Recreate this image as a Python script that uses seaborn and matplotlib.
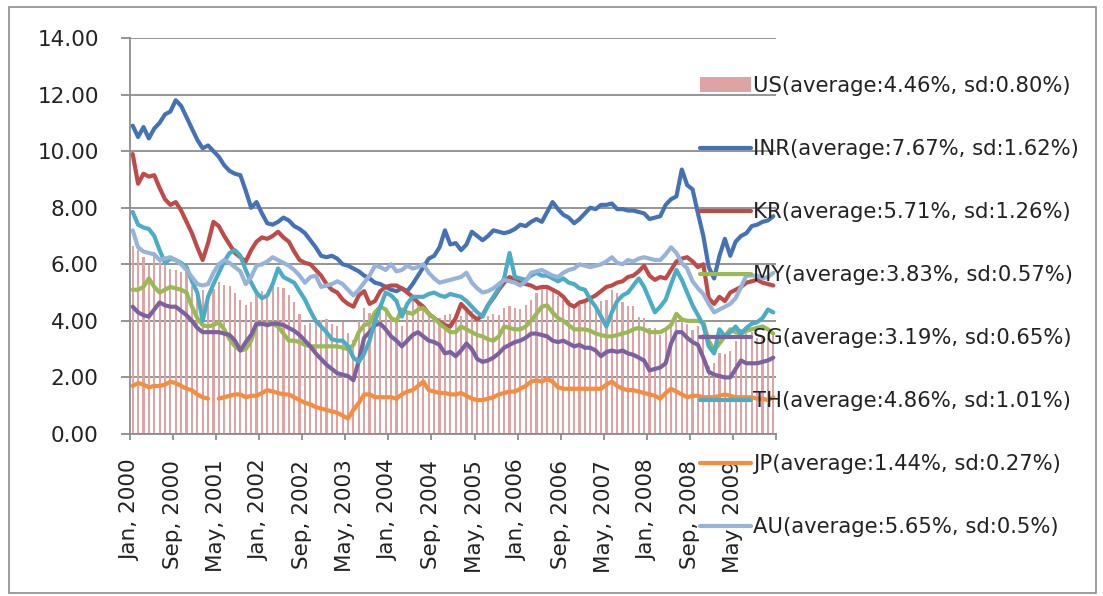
import numpy as np
import pandas as pd
import matplotlib.pyplot as plt
import seaborn as sns
from matplotlib.patches import Patch, Rectangle
from matplotlib.lines import Line2D

# ---------------------------------------------
# Datos mensuales (Jan 2000 - Dec 2009), en %
# ---------------------------------------------
months = pd.date_range("2000-01-01", periods=120, freq="MS").strftime("%b, %Y").tolist()

us = [6.66, 6.52, 6.26, 5.99, 6.44, 6.10, 6.05, 5.83, 5.80, 5.74, 5.72, 5.24,
      5.16, 5.10, 4.89, 5.14, 5.39, 5.28, 5.24, 4.97, 4.73, 4.57, 4.65, 5.09,
      5.04, 4.91, 5.28, 5.21, 5.16, 4.93, 4.65, 4.26, 3.87, 3.94, 4.05, 4.03,
      4.05, 3.90, 3.81, 3.96, 3.57, 3.33, 3.98, 4.45, 4.27, 4.29, 4.30, 4.27,
      4.15, 4.08, 3.83, 4.35, 4.72, 4.73, 4.50, 4.28, 4.13, 4.10, 4.19, 4.23,
      4.22, 4.17, 4.50, 4.34, 4.14, 4.00, 4.18, 4.26, 4.20, 4.46, 4.54, 4.47,
      4.42, 4.57, 4.72, 4.99, 5.11, 5.11, 5.09, 4.88, 4.72, 4.73, 4.60, 4.56,
      4.76, 4.72, 4.56, 4.69, 4.75, 5.10, 5.00, 4.67, 4.52, 4.53, 4.15, 4.10,
      3.74, 3.74, 3.51, 3.68, 3.88, 4.10, 4.01, 3.89, 3.69, 3.81, 3.53, 2.42,
      2.52, 2.87, 2.82, 2.93, 3.29, 3.72, 3.56, 3.59, 3.40, 3.39, 3.40, 3.59]

inr = [10.9, 10.5, 10.85, 10.45, 10.8, 11.0, 11.3, 11.4, 11.8, 11.6, 11.2, 10.8,
       10.4, 10.1, 10.2, 10.0, 9.8, 9.5, 9.3, 9.2, 9.15, 8.6, 8.0, 8.2,
       7.8, 7.45, 7.4, 7.5, 7.65, 7.55, 7.35, 7.25, 7.1, 6.85, 6.6, 6.3,
       6.25, 6.3, 6.2, 6.0, 5.95, 5.85, 5.75, 5.6, 5.5, 5.35, 5.3, 5.2,
       5.1, 5.05, 5.15, 5.05, 5.3, 5.6, 5.9, 6.2, 6.3, 6.6, 7.2, 6.7,
       6.75, 6.5, 6.7, 7.15, 7.0, 6.85, 7.0, 7.2, 7.15, 7.1, 7.15, 7.25,
       7.4, 7.35, 7.5, 7.6, 7.5, 7.85, 8.2, 7.95, 7.75, 7.65, 7.45, 7.6,
       7.8, 8.0, 7.95, 8.1, 8.1, 8.15, 7.95, 7.95, 7.9, 7.9, 7.85, 7.8,
       7.6, 7.65, 7.7, 8.1, 8.3, 8.4, 9.35, 8.8, 8.65, 7.8, 7.0, 5.9,
       5.5, 6.3, 6.9, 6.3, 6.8, 7.0, 7.1, 7.35, 7.4, 7.5, 7.55, 7.7]

kr = [9.9, 8.85, 9.2, 9.1, 9.15, 8.7, 8.3, 8.1, 8.2, 7.9, 7.5, 7.1,
      6.6, 6.15, 6.75, 7.5, 7.35, 7.0, 6.7, 6.4, 6.25, 6.1, 6.5, 6.8,
      6.95, 6.9, 7.0, 7.15, 6.95, 6.8, 6.45, 6.15, 6.05, 6.0, 5.8, 5.6,
      5.3, 5.1, 5.0, 4.75, 4.6, 4.5, 4.9, 5.05, 4.6, 4.7, 5.05, 5.2,
      5.25, 5.25, 5.15, 5.0, 4.85, 4.65, 4.5, 4.25, 4.1, 3.95, 3.85, 3.8,
      4.1, 4.6, 4.4, 4.2, 4.05, 4.2, 4.55, 4.8, 5.1, 5.35, 5.55, 5.45,
      5.35, 5.3, 5.25, 5.15, 5.2, 5.2, 5.1, 5.0, 4.85, 4.6, 4.5, 4.65,
      4.7, 4.8, 4.9, 5.05, 5.2, 5.25, 5.35, 5.4, 5.55, 5.6, 5.75, 5.95,
      5.6, 5.45, 5.55, 5.5, 5.8, 6.1, 6.2, 6.25, 6.1, 5.9, 6.0, 4.8,
      4.6, 4.85, 4.7, 5.0, 5.1, 5.2, 5.35, 5.4, 5.45, 5.35, 5.3, 5.25]

my = [5.1, 5.1, 5.2, 5.5, 5.2, 5.0, 5.1, 5.2, 5.15, 5.1, 5.0, 4.5,
      4.1, 3.85, 3.8, 3.85, 3.95, 3.7, 3.35, 3.1, 2.95, 3.0, 3.3, 3.85,
      3.9, 3.9, 3.9, 3.8, 3.55, 3.3, 3.3, 3.25, 3.15, 3.1, 3.1, 3.1,
      3.1, 3.1, 3.1, 3.05, 3.0, 3.15, 3.6, 3.85, 3.9, 4.3, 4.5, 4.4,
      4.1, 4.0, 4.4, 4.3, 4.25, 4.4, 4.45, 4.25, 4.1, 3.9, 3.75, 3.6,
      3.6, 3.8, 3.7, 3.6, 3.5, 3.45, 3.35, 3.3, 3.45, 3.8, 3.75, 3.7,
      3.7, 3.8, 4.0, 4.25, 4.5, 4.55, 4.3, 4.1, 4.0, 3.85, 3.7, 3.7,
      3.7, 3.65, 3.55, 3.5, 3.45, 3.45, 3.5, 3.55, 3.6, 3.7, 3.75, 3.7,
      3.6, 3.6, 3.6, 3.7, 3.85, 4.25, 4.05, 4.0, 4.0, 4.0, 3.95, 3.3,
      2.95, 3.2, 3.45, 3.7, 3.6, 3.55, 3.65, 3.7, 3.75, 3.8, 3.7, 3.55]

sg = [4.5, 4.3, 4.2, 4.15, 4.4, 4.65, 4.55, 4.5, 4.5, 4.35, 4.2, 4.0,
      3.75, 3.6, 3.6, 3.6, 3.6, 3.55, 3.5, 3.3, 2.95, 3.25, 3.5, 3.9,
      3.9, 3.85, 3.9, 3.9, 3.85, 3.75, 3.65, 3.5, 3.3, 3.1, 2.85, 2.65,
      2.45, 2.3, 2.15, 2.1, 2.05, 1.9, 2.6, 3.4, 3.6, 3.85, 3.9, 3.7,
      3.45, 3.3, 3.1, 3.3, 3.5, 3.6, 3.45, 3.3, 3.25, 3.15, 2.85, 2.9,
      2.75, 2.95, 3.2, 3.0, 2.65, 2.55, 2.6, 2.7, 2.85, 3.05, 3.15, 3.25,
      3.3, 3.4, 3.55, 3.55, 3.5, 3.45, 3.3, 3.25, 3.3, 3.2, 3.1, 3.15,
      3.05, 3.05, 2.95, 2.75, 2.9, 2.95, 2.9, 2.95, 2.85, 2.8, 2.7, 2.6,
      2.25, 2.3, 2.35, 2.5, 3.2, 3.6, 3.6, 3.4, 3.25, 3.15, 2.7, 2.2,
      2.1, 2.05, 2.0, 2.0, 2.3, 2.6, 2.5, 2.5, 2.5, 2.55, 2.6, 2.7]

th = [7.85, 7.4, 7.3, 7.25, 7.0, 6.5, 6.05, 6.2, 6.15, 6.05, 5.9, 5.4,
      5.0, 4.0, 4.85, 5.3, 5.7, 6.1, 6.4, 6.5, 6.3, 5.8, 5.35, 5.0,
      4.8, 4.9, 5.3, 5.85, 5.55, 5.45, 5.35, 5.05, 4.75, 4.35, 4.0, 3.8,
      3.6, 3.35, 3.3, 3.3, 3.1, 2.7, 2.55, 2.85, 3.3, 4.0, 4.5, 5.0,
      4.9, 4.7, 4.15, 4.6, 4.85, 4.85, 4.85, 4.95, 5.0, 4.9, 4.85, 4.95,
      4.9, 4.85, 4.7, 4.5, 4.3, 4.15, 4.55, 4.85, 5.15, 5.5, 6.4, 5.55,
      5.5, 5.45, 5.6, 5.7, 5.6, 5.6, 5.5, 5.4, 5.5, 5.35, 5.3, 5.15,
      5.1, 4.75, 4.5, 4.15, 3.8, 4.3, 4.7, 4.9, 5.0, 5.25, 5.5, 5.2,
      4.75, 4.3, 4.5, 4.75, 5.3, 5.8, 5.45, 5.0, 4.55, 4.2, 3.85, 3.1,
      2.85, 3.7, 3.45, 3.6, 3.8, 3.55, 3.75, 3.9, 3.95, 4.1, 4.4, 4.3]

jp = [1.7, 1.8, 1.75, 1.65, 1.7, 1.7, 1.75, 1.85, 1.8, 1.7, 1.6, 1.55,
      1.4, 1.3, 1.25, np.nan, 1.25, 1.3, 1.35, 1.4, 1.4, 1.3, 1.35, 1.35,
      1.45, 1.55, 1.5, 1.45, 1.4, 1.4, 1.3, 1.2, 1.1, 1.05, 0.95, 0.9,
      0.85, 0.8, 0.75, 0.65, 0.55, 0.85, 1.1, 1.4, 1.4, 1.3, 1.3, 1.3,
      1.3, 1.25, 1.4, 1.5, 1.55, 1.7, 1.85, 1.55, 1.5, 1.45, 1.45, 1.4,
      1.4, 1.45, 1.35, 1.25, 1.2, 1.2, 1.25, 1.3, 1.4, 1.45, 1.5, 1.5,
      1.6, 1.7, 1.85, 1.9, 1.85, 1.95, 1.85, 1.65, 1.6, 1.6, 1.6, 1.6,
      1.6, 1.6, 1.6, 1.6, 1.75, 1.85, 1.7, 1.6, 1.55, 1.55, 1.5, 1.45,
      1.4, 1.35, 1.25, 1.45, 1.6, 1.5, 1.4, 1.3, 1.35, 1.35, 1.3, 1.3,
      1.3, 1.35, 1.4, 1.35, 1.3, 1.3, 1.3, 1.3, 1.25, 1.25, 1.2, 1.3]

au = [7.2, 6.6, 6.45, 6.4, 6.35, 6.15, 6.2, 6.25, 6.15, 6.0, 5.8, 5.55,
      5.3, 5.25, 5.3, 5.7, 6.0, 6.15, 6.05, 5.9, 5.75, 5.3, 5.55, 5.95,
      6.0, 6.1, 6.25, 6.15, 6.05, 5.95, 5.8, 5.6, 5.35, 5.55, 5.6, 5.2,
      5.25, 5.3, 5.4, 5.3, 5.1, 4.9, 5.1, 5.35, 5.6, 5.95, 5.9, 5.8,
      6.0, 5.75, 5.8, 5.95, 5.85, 5.9, 6.0, 5.7, 5.5, 5.35, 5.4, 5.45,
      5.5, 5.55, 5.7, 5.35, 5.15, 5.0, 5.05, 5.15, 5.3, 5.45, 5.4, 5.35,
      5.25, 5.4, 5.7, 5.75, 5.8, 5.7, 5.6, 5.55, 5.7, 5.8, 5.85, 6.0,
      5.95, 5.9, 5.95, 6.0, 6.1, 6.25, 6.05, 6.0, 6.15, 6.1, 6.2, 6.25,
      6.2, 6.15, 6.15, 6.35, 6.6, 6.4, 6.05, 5.85, 5.4, 5.15, 4.95, 4.6,
      4.3, 4.4, 4.5, 4.6, 4.8, 5.2, 5.6, 5.6, 5.6, 5.5, 5.55, 5.7]

labels = {
    "US": "US(average:4.46%, sd:0.80%)",
    "INR": "INR(average:7.67%, sd:1.62%)",
    "KR": "KR(average:5.71%, sd:1.26%)",
    "MY": "MY(average:3.83%, sd:0.57%)",
    "SG": "SG(average:3.19%, sd:0.65%)",
    "TH": "TH(average:4.86%, sd:1.01%)",
    "JP": "JP(average:1.44%, sd:0.27%)",
    "AU": "AU(average:5.65%, sd:0.5%)",
}

colores = {"INR": "#4472b4", "KR": "#be4b48", "MY": "#98b954", "SG": "#7d60a0",
           "TH": "#4aacc5", "JP": "#f68d3c", "AU": "#97b3da"}
us_color = "#dea3a3"
series = {"INR": inr, "KR": kr, "MY": my, "SG": sg, "TH": th, "JP": jp, "AU": au}

# tabla larga; "seg" corta la linea donde falta un dato
rows = []
for name, vals in series.items():
    seg = 0
    for i, v in enumerate(vals):
        if np.isnan(v):
            seg += 1
            continue
        rows.append((i, v, name, seg))
df = pd.DataFrame(rows, columns=["month", "rate", "country", "seg"])

# ===============================
# Figura
# ===============================
sns.set_theme(style="white")
plt.rcParams['font.family'] = ['DejaVu Sans']
txt = "#222222"
gris = "#8c8c8c"

W, H = 1103, 596
fig = plt.figure(figsize=(W / 100, H / 100), dpi=100)
ax = fig.add_axes([130 / W, 1 - 434 / H, (776 - 130) / W, (434 - 38) / H])

sns.barplot(x=np.arange(120), y=us, color=us_color, saturation=1, width=0.4,
            linewidth=0, ax=ax)
sns.lineplot(data=df, x="month", y="rate", hue="country", units="seg",
             estimator=None, hue_order=list(series), palette=colores,
             linewidth=3, legend=False, sort=False, ax=ax)

ax.set_xlim(-0.5, 119.5)
ax.set_ylim(0, 14)
ax.set_yticks(np.arange(0, 15, 2))
ax.set_yticklabels([f"{v:.2f}" for v in np.arange(0, 15, 2)])
ax.set_xticks(np.arange(-0.5, 120, 8))
ax.set_xticklabels(months[::8] + [""], rotation=90)
ax.set_xlabel("")
ax.set_ylabel("")

ax.yaxis.grid(True, color=gris, lw=1.3)
ax.set_axisbelow(True)
for s in ["top", "right"]:
    ax.spines[s].set_visible(False)
for s in ["left", "bottom"]:
    ax.spines[s].set_color(gris)
    ax.spines[s].set_linewidth(1.3)
ax.tick_params(axis="y", length=6.5, width=1.3, color=gris, pad=16,
               labelsize=15.5, labelcolor=txt, left=True)
ax.tick_params(axis="x", length=4.5, width=1.3, color=gris, pad=14,
               labelsize=15.5, labelcolor=txt, bottom=True)

handles = [Patch(facecolor=us_color, edgecolor="none")]
handles += [Line2D([], [], color=colores[k], lw=3) for k in series]
fig.legend(handles, list(labels.values()), loc="upper left",
           bbox_to_anchor=(700 / W, 1 - 76 / H), frameon=False,
           fontsize=15.2, labelcolor=txt, handlelength=2.42,
           handletextpad=0.1, labelspacing=2.04, borderpad=0,
           borderaxespad=0)

fig.add_artist(Rectangle((9 / W, 3 / H), (1096 - 9) / W, (589 - 3) / H,
                         transform=fig.transFigure, fill=False,
                         edgecolor=gris, lw=1.2))

fig.savefig("out.png", dpi=100)
